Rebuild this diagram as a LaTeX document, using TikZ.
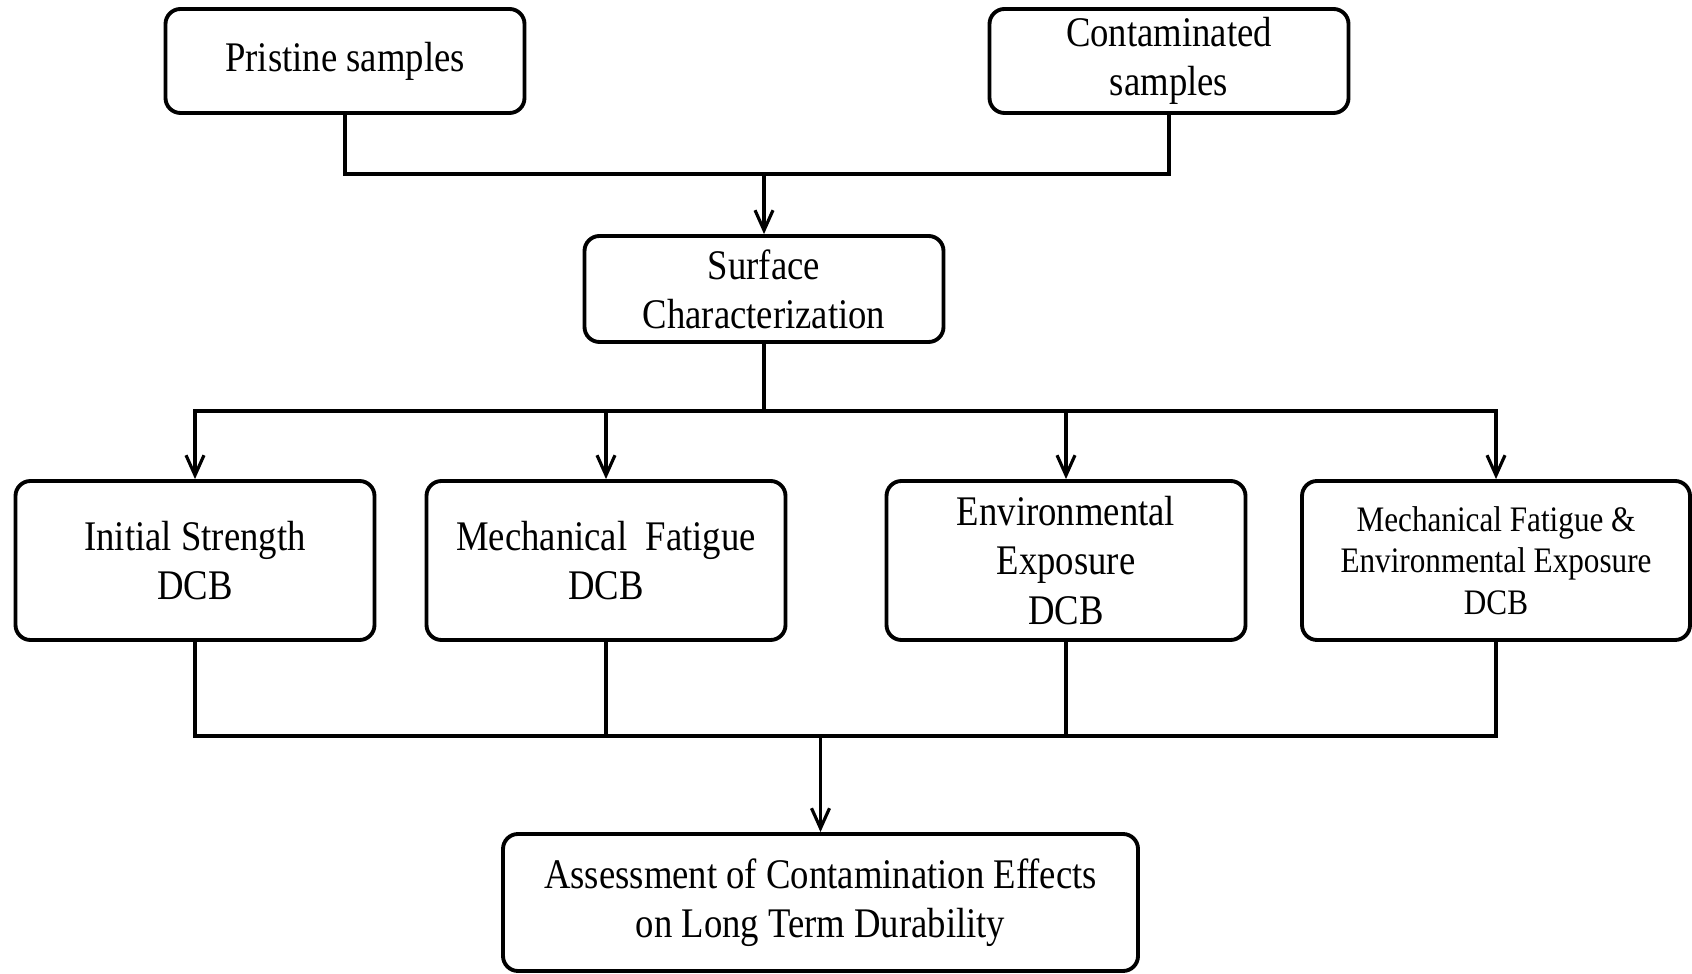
\documentclass[tikz,border=0pt]{standalone}
\usepackage{fontspec}
\setmainfont[FakeStretch=0.87]{Liberation Serif}
\usepackage{tikz}
\usetikzlibrary{arrows.meta}
\tikzset{
  stagebox/.style={draw,line width=1.1pt,rounded corners=0.15cm,align=center,
    minimum width=3.59cm,minimum height=1.59cm,inner sep=0pt,
    font=\fontsize{12}{14}\selectfont},
  flowline/.style={line width=0.9pt},
  flowarrow/.style={flowline,-{Straight Barb[length=2mm,width=1.8mm]}}
}

\begin{document}
\begin{tikzpicture}
                \useasboundingbox (0,0) rectangle (16.92,9.73);
                % Samples
                \node[stagebox,minimum height=1.04cm] (pristine) at (3.45,9.12) {Pristine samples};
                \node[stagebox,minimum height=1.04cm] (contam) at (11.69,9.12) {Contaminated\\samples};
                % Characterization
                \node[stagebox,minimum height=1.06cm] (surface) at (7.64,6.84) {Surface\\Characterization};
                % DCB tests
                \node[stagebox] (initial) at (1.95,4.125) {Initial Strength\\DCB};
                \node[stagebox] (mechfat) at (6.06,4.125) {Mechanical\ \ Fatigue\\DCB};
                \node[stagebox] (envexp) at (10.66,4.125) {Environmental\\Exposure\\DCB};
                \node[stagebox,minimum width=3.88cm,font=\fontsize{10.2}{11.8}\selectfont]
                    (combined) at (14.96,4.125) {Mechanical Fatigue \&\\Environmental Exposure\\DCB};
                % Assessment
                \node[stagebox,minimum width=6.35cm,minimum height=1.37cm] (assess) at (8.205,0.705)
                    {Assessment of Contamination Effects\\on Long Term Durability};
                % Join points
                \coordinate (join1) at (7.64,7.99);
                \coordinate (fork) at (7.64,5.62);
                \coordinate (join2) at (8.205,2.37);
                % Connectors
                \draw[flowline] (pristine.south) |- (join1) -| (contam.south);
                \draw[flowarrow] (join1) -- (surface.north);
                \draw[flowline] (surface.south) -- (fork);
                \foreach \stage in {initial,mechfat,envexp,combined}
                    \draw[flowarrow] (fork) -| (\stage.north);
                \foreach \stage in {initial,mechfat,envexp,combined}
                    \draw[flowline] (\stage.south) |- (join2);
                \draw[flowarrow] (join2) -- (assess.north);
            \end{tikzpicture}
\end{document}
